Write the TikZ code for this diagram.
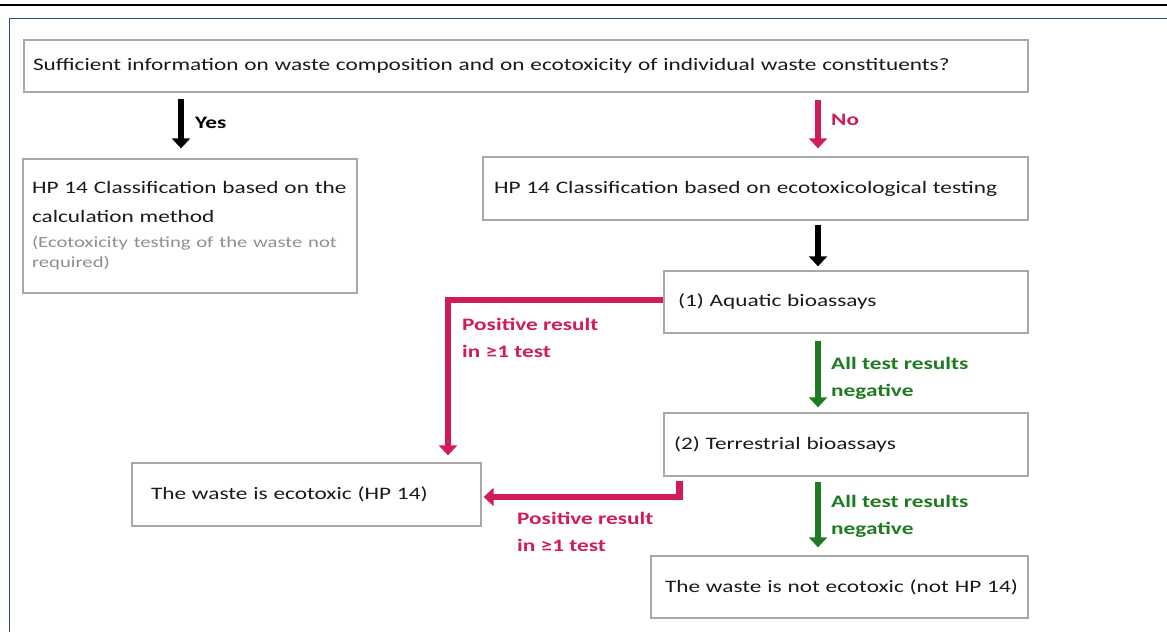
\documentclass[tikz,border=0pt]{standalone}
\usepackage{fontspec}
\setmainfont{Carlito}[FakeStretch=1.33]
\usetikzlibrary{arrows.meta}
\definecolor{crim}{HTML}{D01C5B}
\definecolor{grn}{HTML}{1E7B22}
\definecolor{boxgray}{HTML}{A8A8A8}
\definecolor{txtgray}{HTML}{8F8F8F}
\definecolor{navy}{HTML}{2E4A7A}
\definecolor{ink}{HTML}{1A1A1A}
\begin{document}
\begin{tikzpicture}[x=1pt,y=-1pt,
  box/.style={draw=boxgray, line width=1.3pt, fill=white, text=ink,
    font=\fontsize{17.5}{20}\selectfont, align=left, inner ysep=0pt},
  flow/.style={line width=6.5pt, -{Triangle[width=18pt,length=10pt]}},
  lab/.style={font=\bfseries\fontsize{17.5}{27}\selectfont, align=left, inner sep=0pt, anchor=base west}
]
\fill[white] (0,0) rectangle (1167,632);
\useasboundingbox (0,0) rectangle (1167,632);
% top rule and frame
\draw[line width=2pt, black] (0,5) -- (1167,5);
\draw[navy, line width=1.2pt] (1167,18.5) -- (9.5,18.5) -- (9.5,632);

% boxes
\node[box, text width=986pt, inner xsep=9pt, minimum height=52pt] (q) at (526,66)
  {\mbox{Sufficient information on waste composition and on ecotoxicity of individual waste constituents?}};
\node[box, text width=316pt, inner xsep=9pt, minimum height=134pt] (calc) at (190,226)
  {\fontsize{17.5}{23}\selectfont \mbox{HP 14 Classification based on the}\\[6pt] \mbox{calculation method}\\[2pt]
   {\color{txtgray}\fontsize{15.5}{23}\selectfont \mbox{(Ecotoxicity testing of the waste not}\\ required)}};
\node[box, text width=523pt, inner xsep=11pt, minimum height=63pt] (test) at (755.5,188.5)
  {\mbox{HP 14 Classification based on ecotoxicological testing}};
\node[box, text width=336pt, inner xsep=14pt, minimum height=62pt] (aq) at (846,302)
  {(1) Aquatic bioassays};
\node[box, text width=344pt, inner xsep=10pt, minimum height=63pt] (ter) at (846,444.5)
  {(2) Terrestrial bioassays};
\node[box, text width=311pt, inner xsep=19pt, minimum height=63pt] (eco) at (306.5,494.5)
  {The waste is ecotoxic (HP 14)};
\node[box, text width=349pt, inner xsep=14pt, minimum height=62pt] (non) at (839.5,587)
  {\mbox{The waste is not ecotoxic (not HP 14)}};

% helper x positions
\coordinate (xl) at (181,0);
\coordinate (xr) at (818,0);
\coordinate (c1) at (448,300);
\coordinate (c2) at (679.5,497);

% arrows
\draw[flow, black, shorten <=6pt, shorten >=10pt] (q.south -| xl) -- (calc.north -| xl);
\draw[flow, crim, shorten <=7pt, shorten >=8pt] (q.south -| xr) -- (test.north -| xr);
\draw[flow, black, shorten <=4pt, shorten >=4pt] (test.south -| xr) -- (aq.north -| xr);
\draw[flow, grn, shorten <=7pt, shorten >=5pt] (aq.south -| xr) -- (ter.north -| xr);
\draw[flow, grn, shorten <=5pt, shorten >=8pt] (ter.south -| xr) -- (non.north -| xr);
\draw[flow, crim, line join=miter, shorten >=7pt] (aq.west |- c1) -- (c1) -- (c1 |- eco.north);
\draw[flow, crim, line join=miter, shorten <=4pt, shorten >=2pt] (ter.south -| c2) -- (c2) -- (eco.east |- c2);

% labels (base = baseline of the last line)
\node[lab, text=black] (lyes) at (195,128) {Yes};
\node[lab, text=crim] (lno) at (831,125) {No};
\node[lab, text=crim] (lp1) at (462,357) {Positive result\\in ≥1 test};
\node[lab, text=crim] (lp2) at (517,551) {Positive result\\in ≥1 test};
\node[lab, text=grn] (ln1) at (831,396) {All test results\\negative};
\node[lab, text=grn] (ln2) at (831,534) {All test results\\negative};
\end{tikzpicture}
\end{document}
